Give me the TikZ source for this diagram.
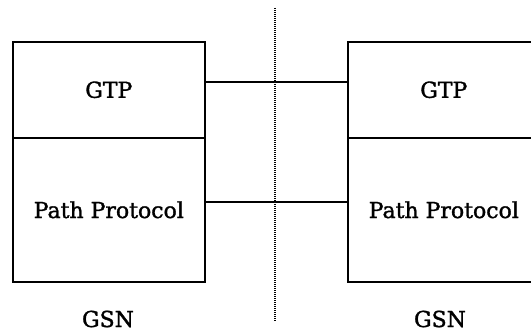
\documentclass[tikz,border=0pt]{standalone}
\usepackage{fontspec}
\setmainfont[FakeBold=1.5]{DejaVu Serif}
\begin{document}
\begin{tikzpicture}[x=1pt,y=-1pt,
  layer/.style={draw=black, line width=1.6pt, minimum width=192pt, inner sep=0pt, font=\fontsize{22}{26}\selectfont},
  lbl/.style={font=\fontsize{22}{26}\selectfont, inner sep=0pt},
  link/.style={line width=1.6pt},
  sep/.style={line width=1.1pt, dash pattern=on 1pt off 1pt}]
\useasboundingbox (0,0) rectangle (531,334);
\clip (0,0) rectangle (531,334);
\node[layer, minimum height=96pt, anchor=north west] (gtpL) at (12,41) {GTP};
\node[layer, minimum height=144pt, anchor=north west] (pathL) at (12,137) {Path Protocol};
\node[layer, minimum height=96pt, anchor=north west] (gtpR) at (347,41) {GTP};
\node[layer, minimum height=144pt, anchor=north west] (pathR) at (347,137) {Path Protocol};
\node[lbl] (gsnL) at (108,319) {GSN};
\node[lbl] (gsnR) at (440,319) {GSN};
\coordinate (st) at (275,8);
\coordinate (sb) at (275,321);
\draw[sep] (st) -- (sb);
\draw[link] ([yshift=8pt]gtpL.east) -- ([yshift=8pt]gtpR.west);
\draw[link] ([yshift=8pt]pathL.east) -- ([yshift=8pt]pathR.west);
\end{tikzpicture}
\end{document}
